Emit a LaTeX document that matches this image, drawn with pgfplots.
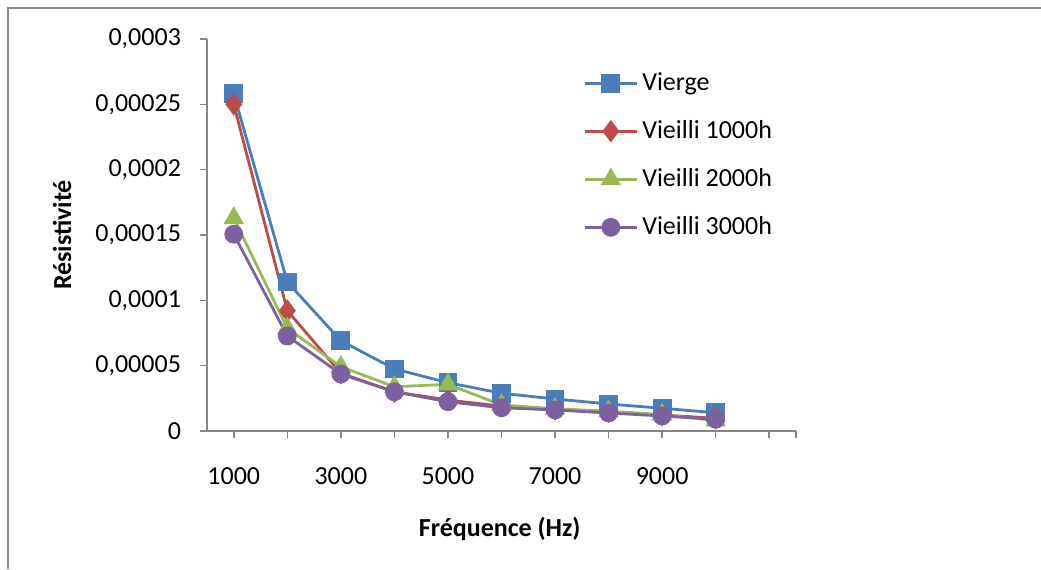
\documentclass[border=0pt]{standalone}
\usepackage{fontspec}
\setmainfont{Carlito}
\usepackage{pgfplots}
\pgfplotsset{compat=1.18}
\definecolor{cblue}{HTML}{4A7EBB}
\definecolor{cred}{HTML}{BE4B48}
\definecolor{cgreen}{HTML}{98B954}
\definecolor{cpurple}{HTML}{7D60A0}
\definecolor{axgray}{HTML}{868686}
\begin{document}
\begin{tikzpicture}[x=0.5pt,y=-0.5pt]
\useasboundingbox (0,0) rectangle (1041,569);
\draw[color=axgray, line width=0.75pt] (8,569) -- (8,8) -- (1041,8);
\begin{axis}[
  at={(103.5pt,-215.5pt)}, anchor=south west,
  scale only axis, width=294.5pt, height=196pt,
  xmin=500, xmax=11500, ymin=0, ymax=3e-4,
  axis x line*=bottom, axis y line*=left,
  axis line style={color=axgray, line width=0.75pt},
  tick style={color=axgray, line width=0.75pt},
  tick align=outside, major tick length=3.5pt,
  xtick={1000,2000,3000,4000,5000,6000,7000,8000,9000,10000,11000,11500},
  xticklabels={1000,{},3000,{},5000,{},7000,{},9000,{},{},{}},
  ytick={0,5e-5,1e-4,1.5e-4,2e-4,2.5e-4,3e-4},
  yticklabels={{0},{0,00005},{0,0001},{0,00015},{0,0002},{0,00025},{0,0003}},
  scaled y ticks=false, scaled x ticks=false,
  tick label style={font=\fontsize{13}{15}\selectfont},
  xticklabel style={anchor=center, yshift=-19pt},
  yticklabel style={anchor=east, xshift=-6pt},
  xlabel={\textbf{Fréquence (Hz)}},
  ylabel={\textbf{Résistivité}},
  label style={font=\fontsize{13}{15}\selectfont},
  xlabel style={at={(axis description cs:0.497,-0.25)}, anchor=center},
  ylabel style={at={(axis description cs:-0.246,0.5)}, anchor=center},
  legend style={at={(axis description cs:0.6385,0.925)}, anchor=north west, draw=none, fill=none,
    font=\fontsize{13}{15}\selectfont, row sep=9.5pt, inner sep=0pt},
  legend cell align=left,
  legend image code/.code={\draw[mark repeat=2,mark phase=2,#1] plot coordinates {(0pt,0pt) (13pt,0pt) (26pt,0pt)};},
  every axis plot/.append style={line width=1.4pt},
  clip=false,
]
\addplot[color=cblue, mark=square*, mark size=4pt, mark options={solid}] coordinates {
(1000,2.58e-4) (2000,1.14e-4) (3000,6.91e-5) (4000,4.75e-5) (5000,3.70e-5)
(6000,2.89e-5) (7000,2.45e-5) (8000,2.07e-5) (9000,1.74e-5) (10000,1.40e-5)};
\addlegendentry{Vierge}
\addplot[color=cred, mark=diamond*, mark size=4.5pt] coordinates {
(1000,2.50e-4) (2000,9.21e-5) (3000,4.42e-5) (4000,3.00e-5) (5000,2.37e-5)
(6000,1.90e-5) (7000,1.66e-5) (8000,1.48e-5) (9000,1.23e-5) (10000,9.7e-6)};
\addlegendentry{Vieilli 1000h}
\addplot[color=cgreen, mark=triangle*, mark size=4.5pt] coordinates {
(1000,1.63e-4) (2000,7.86e-5) (3000,4.92e-5) (4000,3.39e-5) (5000,3.57e-5)
(6000,1.99e-5) (7000,1.70e-5) (8000,1.52e-5) (9000,1.25e-5) (10000,8.0e-6)};
\addlegendentry{Vieilli 2000h}
\addplot[color=cpurple, mark=*, mark size=4pt] coordinates {
(1000,1.506e-4) (2000,7.27e-5) (3000,4.36e-5) (4000,3.00e-5) (5000,2.24e-5)
(6000,1.78e-5) (7000,1.61e-5) (8000,1.38e-5) (9000,1.15e-5) (10000,9.0e-6)};
\addlegendentry{Vieilli 3000h}
\end{axis}
\end{tikzpicture}
\end{document}
